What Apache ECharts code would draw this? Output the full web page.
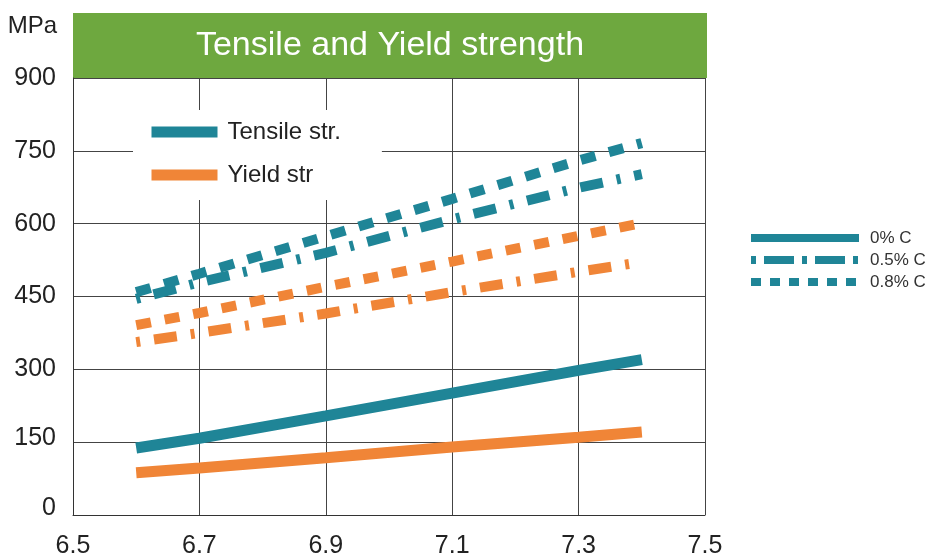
<!DOCTYPE html>
<html>
<head>
<meta charset="utf-8">
<script src="https://cdn.jsdelivr.net/npm/echarts@6/dist/echarts.min.js"></script>
<style>html,body{margin:0;padding:0;background:#fff}#c{width:934px;height:559px}</style>
</head>
<body>
<div id="c"></div>
<script>
// ---- data ----
const xValues = [6.6, 6.7, 6.9, 7.1, 7.3, 7.4];
const tensile0 = [138, 158, 204, 251, 298, 320];
const tensile05 = [445, 479, 540, 609, 674, 702];
const tensile08 = [459, 497, 574, 651, 730, 766];
const yield0 = [87, 97, 118, 140, 160, 171];
const yield05 = [356, 375, 415, 459, 501, 521];
const yield08 = [391, 416, 470, 522, 575, 601];
const yTicks = [0, 150, 300, 450, 600, 750, 900];
const xTicks = [6.5, 6.7, 6.9, 7.1, 7.3, 7.5];
const titleText = 'Tensile and Yield strength';
const yUnit = 'MPa';
const innerLegend = ['Tensile str.', 'Yield str'];
const carbonLegend = ['0% C', '0.5% C', '0.8% C'];

const TEAL = '#1f8597';
const ORANGE = '#f08537';
const FONT = 'Liberation Sans';
const DOTTED = [15, 14];
const DASHDOT = [4, 14, 23, 14];

function pairs(vals) { return xValues.map((x, i) => [x, vals[i]]); }

const chart = echarts.init(document.getElementById('c'));
const gridLeft = 73, gridRight = 229, gridTop = 78, gridBottom = 41;
const hiddenSymbol = { opacity: 0, color: 'rgba(0,0,0,0)', borderWidth: 0 };

chart.setOption({
  animation: false,
  textStyle: { fontFamily: FONT },
  graphic: [{
    type: 'rect', left: gridLeft, top: 13, z: 0,
    shape: { width: 934 - gridLeft - gridRight + 2, height: 65 },
    style: { fill: '#6ea83f' }
  }],
  title: {
    text: titleText, left: (gridLeft + 934 - gridRight) / 2 + 1, top: 29, textAlign: 'center', padding: 0,
    textStyle: { color: '#fff', fontSize: 34, fontWeight: 'normal', fontFamily: FONT }
  },
  grid: { left: gridLeft, right: gridRight, top: gridTop, bottom: gridBottom },
  legend: [{
    id: 'inner', data: innerLegend, orient: 'vertical', left: 133, top: 110,
    backgroundColor: '#fff', padding: [8, 41, 11, 13], itemGap: 15,
    itemWidth: 66, itemHeight: 20, selectedMode: false,
    lineStyle: { width: 11 },
    itemStyle: hiddenSymbol,
    textStyle: { fontSize: 24, color: '#222', lineHeight: 28, fontFamily: FONT, padding: [0, 0, 0, 5] }
  }, {
    id: 'carbon', orient: 'vertical', left: 747, top: 228,
    data: [
      { name: carbonLegend[0], lineStyle: { width: 8, type: 'solid' } },
      { name: carbonLegend[1], lineStyle: { width: 8, type: [5, 8, 30, 8] } },
      { name: carbonLegend[2], lineStyle: { width: 8, type: [10, 9] } }
    ],
    padding: 0, itemGap: 2, itemWidth: 108, itemHeight: 10, selectedMode: false,
    itemStyle: hiddenSymbol,
    textStyle: { fontSize: 17, color: '#333', lineHeight: 20, fontFamily: FONT, padding: [0, 0, 0, 6] }
  }],
  xAxis: {
    type: 'value', min: xTicks[0], max: xTicks[xTicks.length - 1], interval: 0.2,
    axisLine: { show: true, lineStyle: { color: '#333', width: 1 } },
    axisTick: { show: false },
    splitLine: { show: true, lineStyle: { color: '#444', width: 1 } },
    axisLabel: { fontSize: 25, color: '#222', margin: 19, fontFamily: FONT,
      formatter: v => v.toFixed(1) }
  },
  yAxis: {
    type: 'value', min: yTicks[0], max: yTicks[yTicks.length - 1], interval: 150,
    name: yUnit, nameLocation: 'end', nameGap: 40,
    nameTextStyle: { fontSize: 24, color: '#222', align: 'right', padding: [0, 16, 0, 0], fontFamily: FONT },
    axisLine: { show: true, lineStyle: { color: '#333', width: 1 } },
    axisTick: { show: false },
    splitLine: { show: true, lineStyle: { color: '#444', width: 1 } },
    axisLabel: {
      fontSize: 25, color: '#222', margin: 17, fontFamily: FONT,
      formatter: v => v === 0 ? '{a|0}' : v === 150 ? '{b|150}' : String(v),
      rich: {
        a: { fontSize: 25, color: '#222', fontFamily: FONT, padding: [0, 0, 14, 0] },
        b: { fontSize: 25, color: '#222', fontFamily: FONT, padding: [0, 0, 8, 0] }
      }
    }
  },
  series: [
    { name: innerLegend[0], type: 'line', symbol: 'none', data: pairs(tensile0), z: 3,
      lineStyle: { color: TEAL, width: 11, cap: 'butt' }, itemStyle: { color: TEAL } },
    { name: innerLegend[1], type: 'line', symbol: 'none', data: pairs(yield0), z: 3,
      lineStyle: { color: ORANGE, width: 11, cap: 'butt' }, itemStyle: { color: ORANGE } },
    { name: carbonLegend[0], type: 'line', symbol: 'none', data: [],
      lineStyle: { color: TEAL, width: 8 }, itemStyle: { color: TEAL } },
    { name: carbonLegend[1], type: 'line', symbol: 'none', data: pairs(tensile05), z: 3,
      lineStyle: { color: TEAL, width: 10, type: DASHDOT, cap: 'butt' }, itemStyle: { color: TEAL } },
    { name: carbonLegend[2], type: 'line', symbol: 'none', data: pairs(tensile08), z: 3,
      lineStyle: { color: TEAL, width: 10, type: DOTTED, cap: 'butt' }, itemStyle: { color: TEAL } },
    { name: 'Yield 0.5% C', type: 'line', symbol: 'none', data: pairs(yield05), z: 3,
      lineStyle: { color: ORANGE, width: 10, type: DASHDOT, cap: 'butt' }, itemStyle: { color: ORANGE } },
    { name: 'Yield 0.8% C', type: 'line', symbol: 'none', data: pairs(yield08), z: 3,
      lineStyle: { color: ORANGE, width: 10, type: DOTTED, cap: 'butt' }, itemStyle: { color: ORANGE } }
  ]
});
</script>
</body>
</html>
